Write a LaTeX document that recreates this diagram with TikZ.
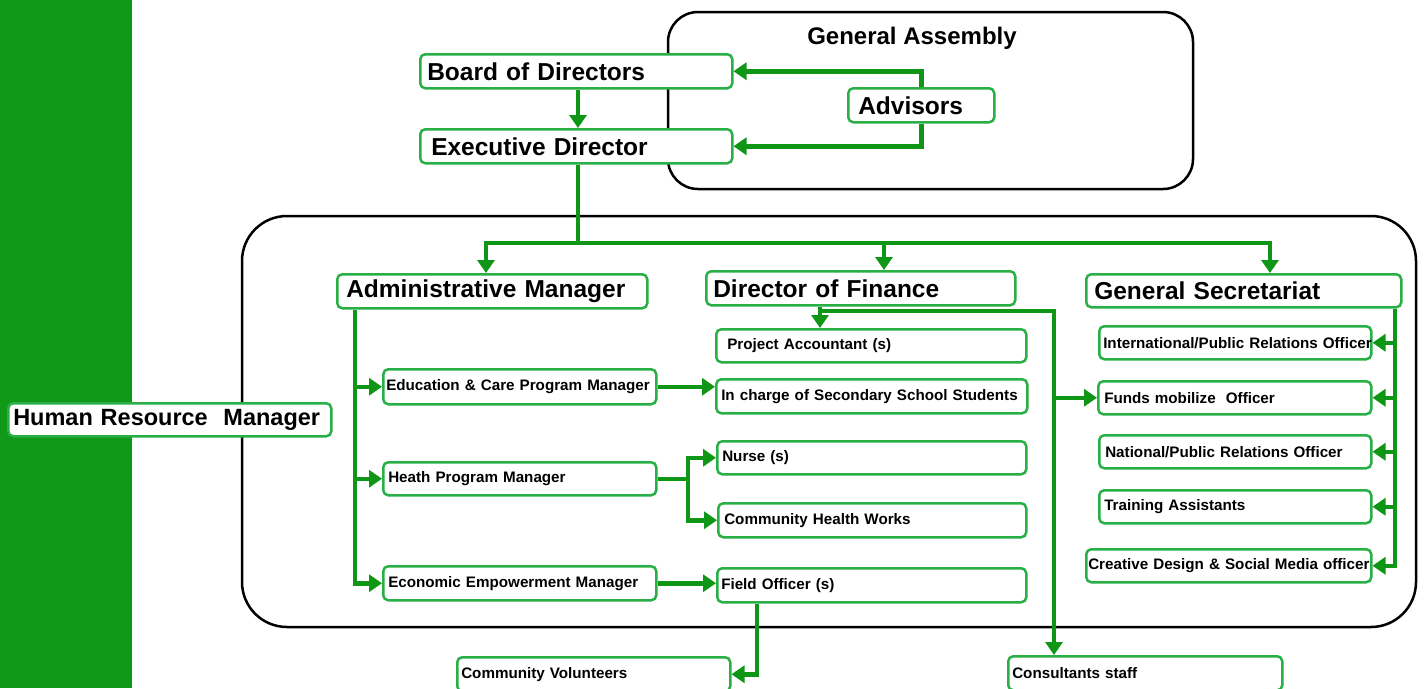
\documentclass[tikz,border=0pt]{standalone}
\usepackage{fontspec}
\setmainfont{Liberation Sans}
\usetikzlibrary{arrows.meta}
\definecolor{gbar}{RGB}{16,152,24}
\definecolor{conn}{RGB}{16,150,22}
\definecolor{bord}{RGB}{40,175,70}
\begin{document}
\begin{tikzpicture}[x=1pt,y=-1pt,
  box/.style={draw=bord, line width=2.5pt, rounded corners=5pt, fill=white, anchor=north west,
              inner ysep=0pt, align=left, font=\bfseries\fontsize{15.2}{17}\selectfont},
  bigbox/.style={box, font=\bfseries\fontsize{24.5}{27}\selectfont},
  con/.style={draw=conn, line width=4.5pt},
  arr/.style={con, -{Triangle[length=13pt,width=17pt]}},
  frame/.style={draw=black, line width=2.5pt}]
\useasboundingbox (0,0) rectangle (1424,688);
\fill[white] (0,0) rectangle (1424,688);
\fill[gbar] (0,0) rectangle (132,688);
% frames
\draw[frame, rounded corners=30pt] (668,12) rectangle (1193,189);
\draw[frame, rounded corners=45pt] (242,216) rectangle (1416,627);
\node[font=\bfseries\fontsize{24}{26}\selectfont] (ga) at (912,38) {General Assembly};
% helper coordinates
\coordinate (c355) at (355,0);
\coordinate (c486) at (486,0);
\coordinate (c578) at (578,0);
\coordinate (c688) at (688,0);
\coordinate (c757) at (757,0);
\coordinate (c820) at (820,0);
\coordinate (c884) at (884,0);
\coordinate (c1054) at (1054,0);
\coordinate (c1270) at (1270,0);
\coordinate (c1395) at (1395,0);
% nodes
\node[bigbox, inner xsep=7pt, minimum width=312pt, minimum height=34pt, text width=298pt] (bod) at (419,53) {Board of Directors};
\node[bigbox, inner xsep=11pt, minimum width=312pt, minimum height=34pt, text width=290pt] (ed) at (419,128) {Executive Director};
\node[bigbox, inner xsep=10pt, minimum width=146pt, minimum height=34pt, text width=126pt] (adv) at (847,87) {Advisors};
\node[bigbox, inner xsep=9pt, minimum width=310pt, minimum height=34pt, text width=292pt] (adm) at (336,273) {Administrative Manager};
\node[bigbox, inner xsep=7pt, minimum width=309pt, minimum height=34pt, text width=295pt] (dof) at (705,270) {Director of Finance};
\node[bigbox, inner xsep=8pt, minimum width=315pt, minimum height=33pt, text width=299pt] (gs) at (1085,273) {General Secretariat};
\node[bigbox, font=\bfseries\fontsize{23.5}{26}\selectfont, inner xsep=5pt, minimum width=323pt, minimum height=33pt, text width=313pt] (hrm) at (7,402) {\mbox{Human Resource\ \ Manager}};
%
\node[box, inner xsep=3pt, minimum width=273pt, minimum height=35pt, text width=267pt] (edu) at (382,368) {Education \& Care Program Manager};
\node[box, inner xsep=5pt, minimum width=273pt, minimum height=33pt, text width=263pt] (hea) at (382,461) {Heath Program Manager};
\node[box, inner xsep=5pt, minimum width=273pt, minimum height=34pt, text width=263pt] (eco) at (382,565) {Economic Empowerment Manager};
%
\node[box, inner xsep=11pt, minimum width=310pt, minimum height=33pt, text width=288pt] (pa) at (715,328) {Project Accountant (s)};
\node[box, inner xsep=5pt, minimum width=311pt, minimum height=34pt, text width=301pt] (ich) at (715,378) {In charge of Secondary School Students};
\node[box, inner xsep=5pt, minimum width=309pt, minimum height=33pt, text width=299pt] (nur) at (716,440) {Nurse (s)};
\node[box, inner xsep=6pt, minimum width=308pt, minimum height=34pt, text width=296pt] (chw) at (717,502) {Community Health Works};
\node[box, inner xsep=4pt, minimum width=309pt, minimum height=34pt, text width=301pt] (fo) at (716,567) {Field Officer (s)};
\node[box, inner xsep=4pt, minimum width=273pt, minimum height=34pt, text width=265pt] (cv) at (456,656) {Community Volunteers};
\node[box, inner xsep=4pt, minimum width=274pt, minimum height=34pt, text width=266pt] (cs) at (1007,655) {Consultants staff};
%
\node[box, inner xsep=4pt, minimum width=272pt, minimum height=33pt, text width=264pt] (ipr) at (1098,325) {\mbox{International/Public Relations Officer}};
\node[box, inner xsep=6pt, minimum width=273pt, minimum height=33pt, text width=261pt] (fmo) at (1097,380) {Funds mobilize\ \ Officer};
\node[box, inner xsep=6pt, minimum width=272pt, minimum height=33pt, text width=260pt] (npr) at (1098,434) {National/Public Relations Officer};
\node[box, inner xsep=5pt, minimum width=272pt, minimum height=33pt, text width=262pt] (ta) at (1098,489) {Training Assistants};
\node[box, inner xsep=2pt, minimum width=285pt, minimum height=33pt, text width=281pt] (cds) at (1085,548) {\mbox{Creative Design \& Social Media officer}};
% connectors top
\draw[arr] (bod.south -| c578) -- (ed.north -| c578);
\draw[arr] (adv.north) |- (bod.east);
\draw[arr] (adv.south) |- (ed.east);
\coordinate (br) at (578,243);
\draw[con] (ed.south -| c578) -- (br);
\draw[arr] (br) -| (adm.north -| c486);
\draw[arr] (br) -| (dof.north -| c884);
\draw[arr] (br) -| (gs.north -| c1270);
% administrative branch
\draw[arr] (adm.south -| c355) |- (eco.west);
\draw[arr] (c355 |- edu.west) -- (edu.west);
\draw[arr] (c355 |- hea.west) -- (hea.west);
\draw[arr] (edu.east) -- (edu.east -| ich.west);
\draw[con] (hea.east) -- (hea.east -| c688);
\draw[arr] (hea.east -| c688) |- (nur.west);
\draw[arr] (hea.east -| c688) |- (chw.west);
\draw[arr] (eco.east) -- (eco.east -| fo.west);
\draw[arr] (fo.south -| c757) |- (cv.east);
% finance branch
\draw[arr] (dof.south -| c820) -- (pa.north -| c820);
\coordinate (d1) at (820,311);
\draw[arr] (d1) -| (cs.north -| c1054);
\draw[arr] (fmo.west -| c1054) -- (fmo.west);
% secretariat branch
\draw[arr] (gs.south -| c1395) |- (cds.east);
\draw[arr] (ipr.east -| c1395) -- (ipr.east);
\draw[arr] (fmo.east -| c1395) -- (fmo.east);
\draw[arr] (npr.east -| c1395) -- (npr.east);
\draw[arr] (ta.east -| c1395) -- (ta.east);
\end{tikzpicture}
\end{document}
